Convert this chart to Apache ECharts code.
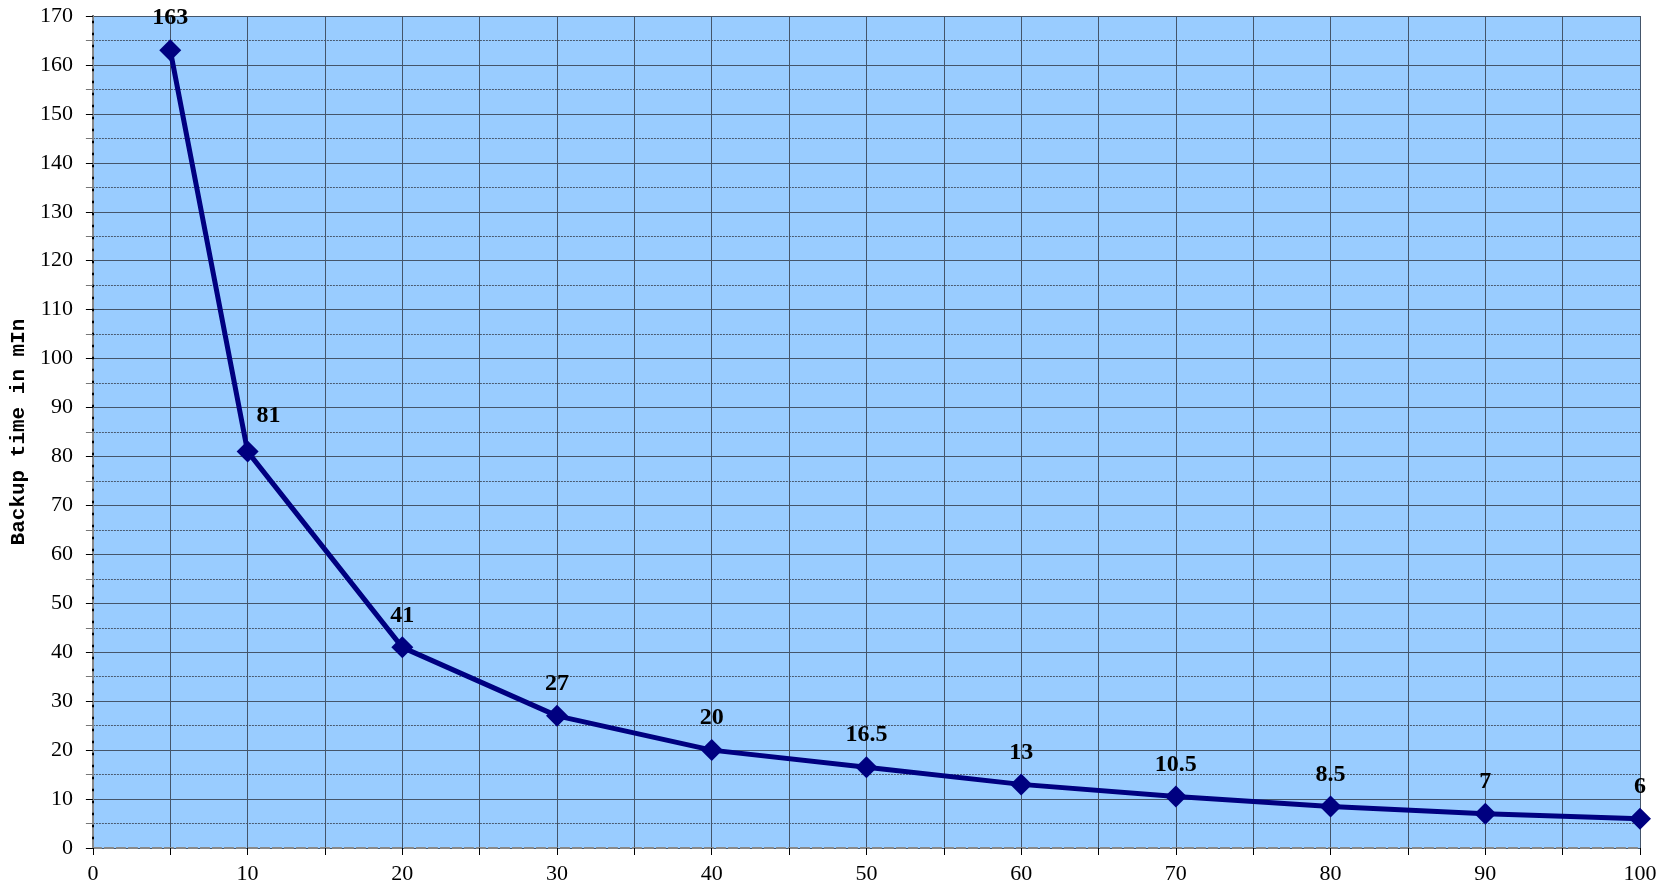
<!DOCTYPE html>
<html>
<head>
<meta charset="utf-8">
<script src="https://cdn.jsdelivr.net/npm/echarts@6/dist/echarts.min.js"></script>
<style>html,body{margin:0;padding:0;background:#fff}#c{width:1671px;height:891px}</style>
</head>
<body>
<div id="c"></div>
<script>
const loadX = [5, 10, 20, 30, 40, 50, 60, 70, 80, 90, 100];
const backupMin = [163, 81, 41, 27, 20, 16.5, 13, 10.5, 8.5, 7, 6];
const yTitle = 'Backup time in mIn';

const serif = '"Liberation Serif", "DejaVu Serif", serif';
const chart = echarts.init(document.getElementById('c'));
const data = loadX.map((x, i) => {
  const d = { value: [x, backupMin[i]] };
  if (i === 1) d.label = { position: 'inside', offset: [21, -36] };
  return d;
});
chart.setOption({
  animation: false,
  backgroundColor: '#fff',
  grid: { left: 90, right: 31, top: 16, bottom: 43, show: true, backgroundColor: '#99CCFF', borderWidth: 0 },
  xAxis: [{
    type: 'value', min: 0, max: 100, interval: 10,
    axisLine: { show: true, lineStyle: { color: '#888', width: 2, type: 'dashed' } },
    axisTick: { show: true, length: 7, lineStyle: { color: '#000' } },
    minorTick: { show: true, splitNumber: 2, length: 7, lineStyle: { color: '#000' } },
    axisLabel: { color: '#000', fontFamily: serif, fontSize: 22, margin: 15 },
    splitLine: { show: true, lineStyle: { color: '#44556a', width: 1 } },
    minorSplitLine: { show: true, lineStyle: { color: '#44556a', width: 1 } }
  }, {
    type: 'value', position: 'top', min: 0, max: 100,
    axisLine: { show: true, lineStyle: { color: '#888', width: 2, type: 'dashed' } },
    axisTick: { show: false }, axisLabel: { show: false }, splitLine: { show: false }
  }],
  yAxis: [{
    type: 'value', min: 0, max: 170, interval: 10,
    name: yTitle, nameLocation: 'middle', nameGap: 60, nameRotate: 90,
    nameTextStyle: { color: '#000', fontFamily: '"Liberation Mono", "DejaVu Sans Mono", monospace', fontSize: 21, fontWeight: 'bold' },
    axisLine: { show: true, lineStyle: { color: '#000', width: 2 } },
    axisTick: { show: true, length: 7, lineStyle: { color: '#000' } },
    minorTick: { show: true, splitNumber: 2, length: 7, lineStyle: { color: '#777' } },
    axisLabel: { color: '#000', fontFamily: serif, fontSize: 22, margin: 20 },
    splitLine: { show: true, lineStyle: { color: '#44556a', width: 1 } },
    minorSplitLine: { show: true, lineStyle: { color: '#4a5a70', width: 1, type: [2, 1] } }
  }, {
    type: 'value', position: 'right', min: 0, max: 170,
    axisLine: { show: true, lineStyle: { color: '#888', width: 2, type: 'dashed' } },
    axisTick: { show: false }, axisLabel: { show: false }, splitLine: { show: false }
  }],
  series: [{
    type: 'line', data: data,
    lineStyle: { color: '#000080', width: 5 },
    itemStyle: { color: '#000080' },
    symbol: 'diamond', symbolSize: 22, showAllSymbol: true,
    label: { show: true, position: 'top', distance: 9, color: '#000', fontFamily: serif, fontSize: 24, fontWeight: 'bold' }
  }]
});
</script>
</body>
</html>
